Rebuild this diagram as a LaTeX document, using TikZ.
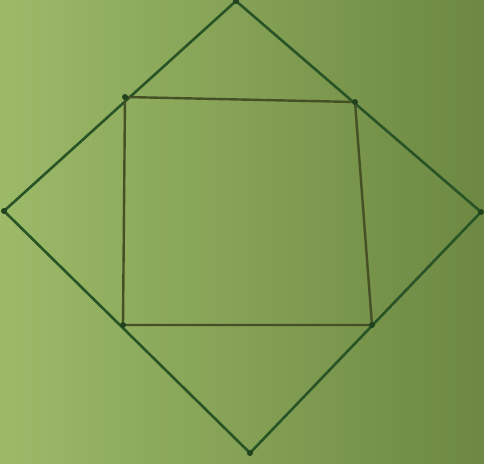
\documentclass[tikz,border=0pt]{standalone}
\usepackage{tikz}

\definecolor{paperL}{RGB}{156,186,104}
\definecolor{paperM}{RGB}{146,176,96}
\definecolor{paperR}{RGB}{108,136,66}
\definecolor{penG}{RGB}{40,84,38}
\definecolor{penB}{RGB}{70,80,38}

\begin{document}
\begin{tikzpicture}[x=1pt,y=-1pt]
    \shade[left color=paperL, middle color=paperM, right color=paperR] (0,0) rectangle (484,463);
    \useasboundingbox (0,0) rectangle (484,463);
    \coordinate (T) at (236,1);
    \coordinate (R) at (481,212);
    \coordinate (B) at (250,453);
    \coordinate (L) at (4,211);
    \coordinate (P) at (125,97);
    \coordinate (Q) at (355,102);
    \coordinate (S) at (372,325);
    \coordinate (U) at (123,325);
    \draw[penG, line width=2.6pt] (T) -- (R) -- (B) -- (L) -- cycle;
    \draw[penB, line width=2.4pt] (P) -- (Q) -- (S) -- (U) -- cycle;
    \fill[penG!80!black] (T) circle (3) (R) circle (3) (B) circle (3) (L) circle (3);
    \fill[penG!80!black] (P) circle (3) (Q) circle (3) (S) circle (3) (U) circle (3);
\end{tikzpicture}
\end{document}
